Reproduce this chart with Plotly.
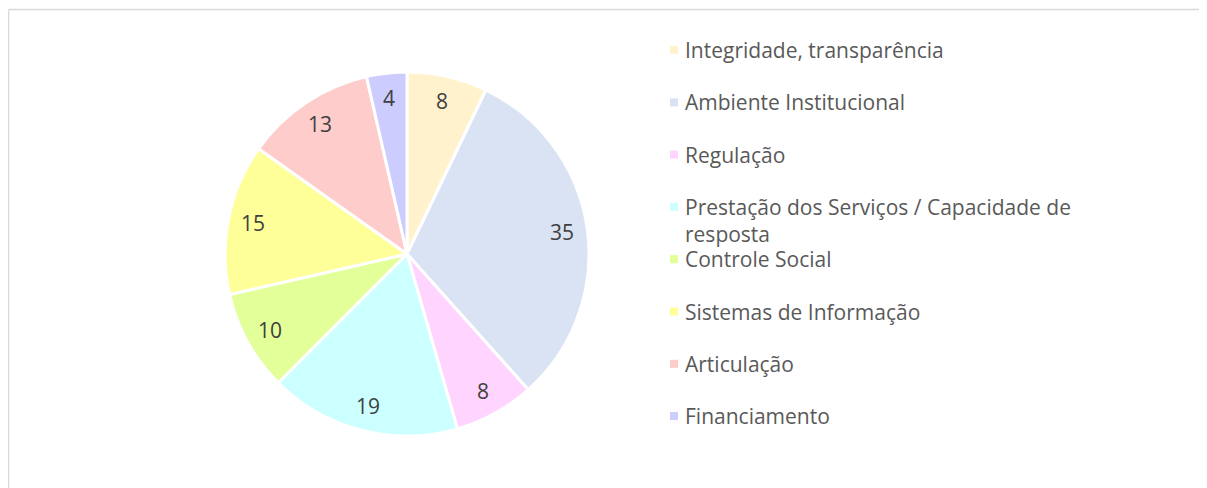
import math
import plotly.graph_objects as go

categories = ["Integridade, transparência", "Ambiente Institucional", "Regulação",
              "Prestação dos Serviços / Capacidade de resposta", "Controle Social",
              "Sistemas de Informação", "Articulação", "Financiamento"]
legend_labels = ["Integridade, transparência", "Ambiente Institucional", "Regulação",
                 "Prestação dos Serviços / Capacidade de<br>resposta", "Controle Social",
                 "Sistemas de Informação", "Articulação", "Financiamento"]
values = [8, 35, 8, 19, 10, 15, 13, 4]
colors = ["#FFF2CC", "#DAE3F3", "#FFD5FF", "#CCFFFF", "#E2FF99", "#FFFF99", "#FFCCCC", "#CCCCFF"]

W, H = 1207, 488
OFF = 8  # page body margin
FONT = "Open Sans"
FS = 21

def px(x):
    return (x - OFF) / W

def py(y):
    return 1 - (y - OFF) / H

cx, cy, R = 407, 254, 182
fig = go.Figure(go.Pie(
    labels=categories, values=values, sort=False, direction="clockwise", rotation=0,
    marker=dict(colors=colors, line=dict(color="white", width=3)),
    textinfo="none",
    domain=dict(x=[px(cx - R), px(cx + R)], y=[py(cy + R), py(cy - R)]),
    showlegend=False, hoverinfo="label+value",
))

shapes = [
    dict(type="line", xref="paper", yref="paper", x0=px(8.5), x1=1, y0=py(9.5), y1=py(9.5),
         line=dict(color="#D9D9D9", width=1.5)),
    dict(type="line", xref="paper", yref="paper", x0=px(8.5), x1=px(8.5), y0=0, y1=py(9.5),
         line=dict(color="#D9D9D9", width=1.5)),
]
annotations = []

# value labels inside slices, placed at 0.86 of radius along each slice's mid-angle
total = sum(values)
cum = 0
for v in values:
    mid = (cum + v / 2) / total * 2 * math.pi
    cum += v
    lx = cx + 0.86 * R * math.sin(mid)
    ly = cy - 0.86 * R * math.cos(mid)
    annotations.append(dict(xref="paper", yref="paper", x=px(lx), y=py(ly),
                            xanchor="center", yanchor="middle", showarrow=False,
                            text=str(v), font=dict(family=FONT, size=FS, color="#404040")))

y0, step, lh = 50, 52.3, 28
for i, (lab, col) in enumerate(zip(legend_labels, colors)):
    yc = y0 + step * i
    nlines = lab.count("<br>") + 1
    shapes.append(dict(type="rect", xref="paper", yref="paper",
                       x0=px(670), x1=px(678), y0=py(yc + 4), y1=py(yc - 4),
                       fillcolor=col, line=dict(width=0)))
    annotations.append(dict(xref="paper", yref="paper", x=px(683),
                            y=py(yc + (nlines - 1) * lh / 2),
                            xanchor="left", yanchor="middle", align="left", showarrow=False,
                            text=lab, font=dict(family=FONT, size=FS, color="#595959")))

fig.update_layout(
    width=W, height=H, margin=dict(l=0, r=0, t=0, b=0),
    paper_bgcolor="white", plot_bgcolor="white",
    shapes=shapes, annotations=annotations,
)
fig.write_html("out.html")
